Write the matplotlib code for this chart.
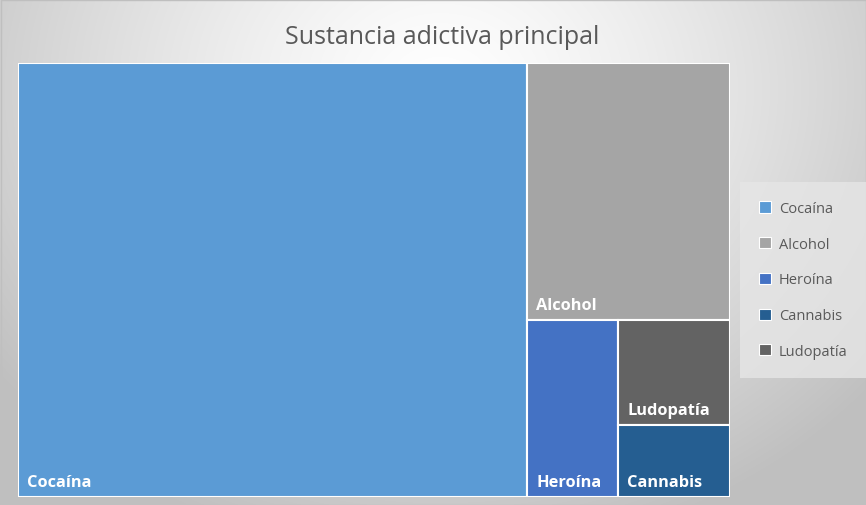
import numpy as np
import matplotlib as mpl
mpl.use('Agg')
from matplotlib import pyplot as plt
from matplotlib.patches import Rectangle, Patch

# data (share of patients)
labels = ["Cocaína", "Alcohol", "Heroína", "Ludopatía", "Cannabis"]
values = [71.5, 16.9, 5.2, 3.8, 2.6]
legend_order = ["Cocaína", "Alcohol", "Heroína", "Cannabis", "Ludopatía"]
colors = {"Cocaína": "#5B9BD5", "Alcohol": "#A5A5A5", "Heroína": "#4472C4",
          "Cannabis": "#255E91", "Ludopatía": "#636363"}

title = "Sustancia adictiva principal"

W_px, H_px = 866, 506
my_dpi = 100

fig = plt.figure(figsize=(W_px/my_dpi, H_px/my_dpi), dpi=my_dpi)

# background radial gradient
bg = fig.add_axes([0, 0, 1, 1], zorder=0)
yy, xx = np.mgrid[0:H_px, 0:W_px]
r = np.sqrt(((xx - 440)/560.0)**2 + ((yy - 90)/470.0)**2)
r = np.clip(r, 0, 1)
shade = 1.0 - 0.25*r**1.3
bg.imshow(np.dstack([shade]*3), extent=[0, W_px, H_px, 0], aspect='auto')
bg.add_patch(Rectangle((0.5, 0.5), W_px - 1, H_px - 1, fill=False,
                       edgecolor='#BFBFBF', linewidth=1))
bg.set_xlim(0, W_px)
bg.set_ylim(H_px, 0)
bg.axis('off')

# treemap area in pixels
x0, y0, x1, y1 = 18, 64, 730, 498
ax = fig.add_axes([x0/W_px, 1 - y1/H_px, (x1-x0)/W_px, (y1-y0)/H_px], zorder=1)
w, h = x1 - x0, y1 - y0
ax.set_xlim(0, w)
ax.set_ylim(h, 0)
ax.axis('off')

# slice each item off along the longer side of the remaining rectangle
rects = []
rx, ry, rw, rh = 0.0, 0.0, float(w), float(h)
remaining = float(sum(values))
for i, v in enumerate(values):
  if i == len(values) - 1:
    rects.append((rx, ry, rw, rh))
    break
  frac = v/remaining
  if rw >= rh:
    cw = rw*frac
    rects.append((rx, ry, cw, rh))
    rx += cw
    rw -= cw
  else:
    ch = rh*frac
    rects.append((rx, ry, rw, ch))
    ry += ch
    rh -= ch
  remaining -= v

for lab, (rx, ry, rw, rh) in zip(labels, rects):
  ax.add_patch(Rectangle((rx, ry), rw, rh, facecolor=colors[lab],
                         edgecolor='white', linewidth=1.5))
  ax.text(rx + 9, ry + rh - 11, lab, color='white', fontsize=11.8,
          fontweight='bold', family='Open Sans', ha='left', va='baseline')

fig.text(442/W_px, 1 - 37/H_px, title, ha='center', va='center',
         fontsize=18, color='#595959', family='Open Sans')

handles = [Patch(facecolor=colors[l], edgecolor='white', linewidth=0.8, label=l)
           for l in legend_order]
leg = fig.legend(handles=handles, loc='center left',
                 bbox_to_anchor=(740/W_px, 1 - 281/H_px), borderaxespad=0,
                 frameon=True, handlelength=0.8, handleheight=0.8,
                 handletextpad=0.55, labelspacing=1.42, borderpad=1.3,
                 fancybox=False, prop={'family': 'Open Sans', 'size': 10.5})
leg.get_frame().set_facecolor('#E6E6E6')
leg.get_frame().set_edgecolor('none')
leg.get_frame().set_alpha(0.8)
for t in leg.get_texts():
  t.set_color('#595959')

fig.savefig('out.png', dpi=my_dpi)
